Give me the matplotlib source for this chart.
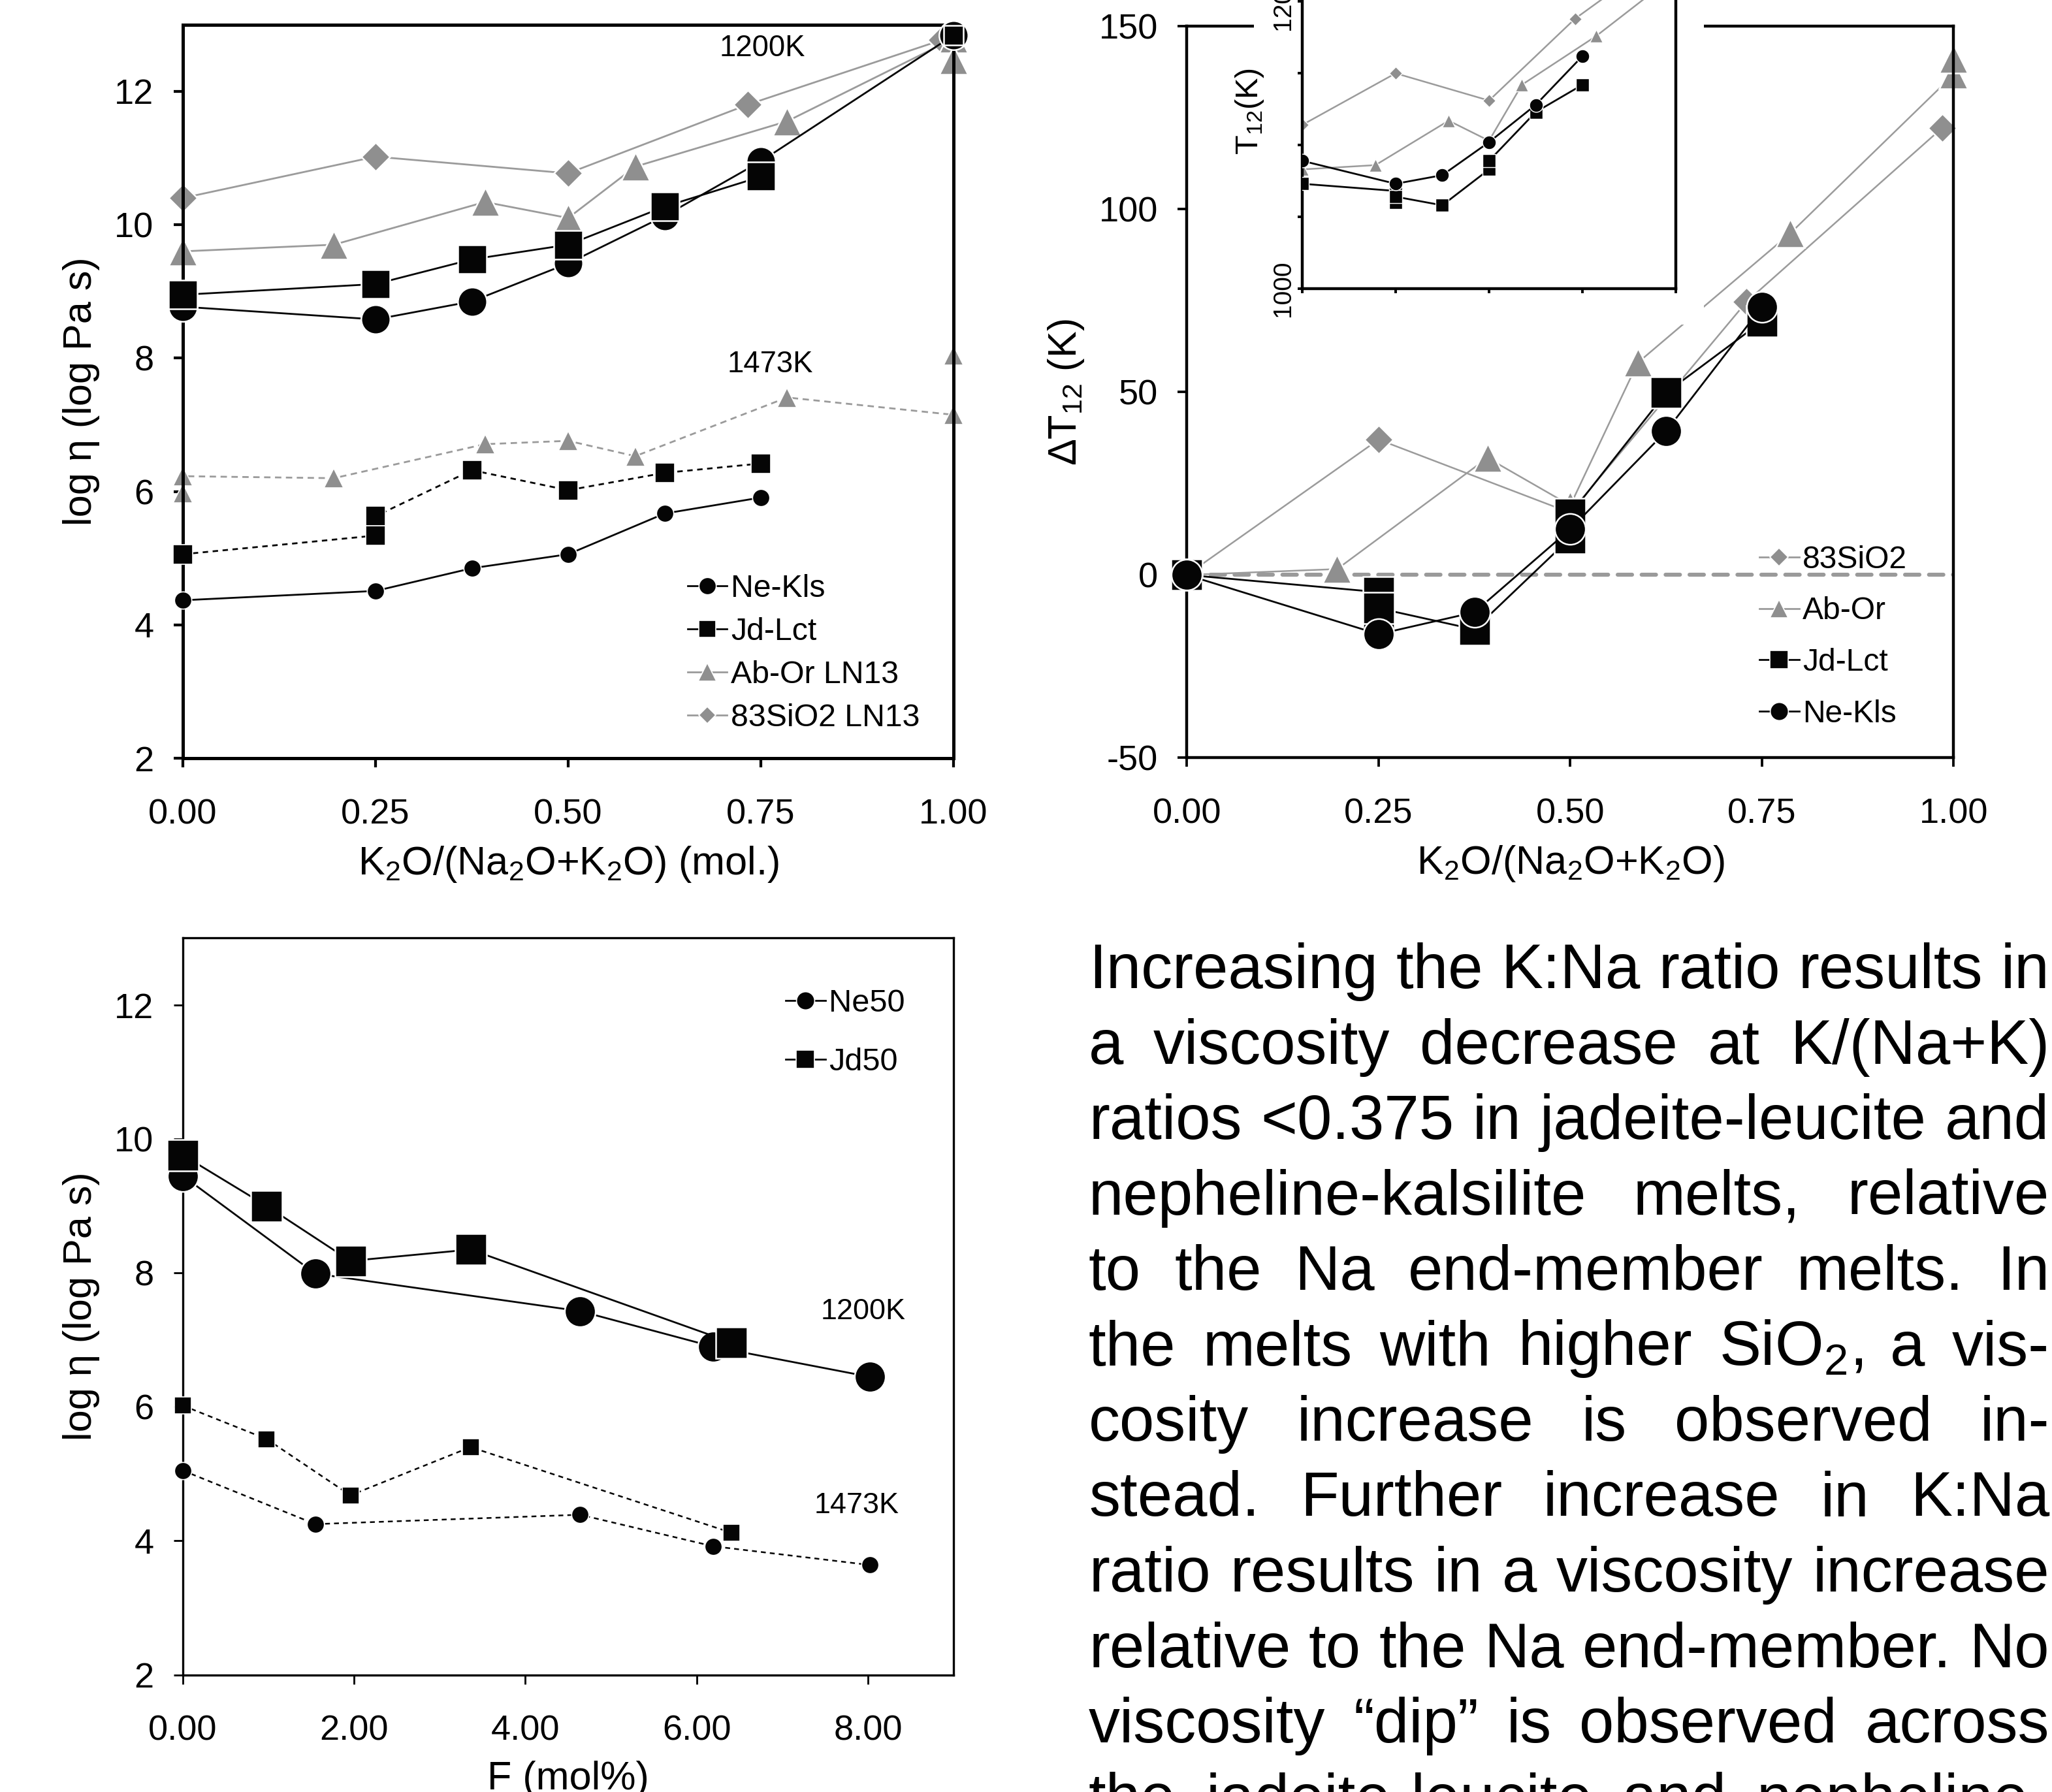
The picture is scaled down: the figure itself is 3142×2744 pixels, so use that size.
import matplotlib
matplotlib.use("Agg")
import matplotlib.pyplot as plt
from matplotlib.lines import Line2D
from matplotlib.patches import Rectangle
from matplotlib.ticker import FormatStrFormatter

plt.rcParams['font.family'] = ['Liberation Sans', 'DejaVu Sans']
plt.rcParams['mathtext.fontset'] = 'custom'
plt.rcParams['mathtext.rm'] = 'Liberation Sans'
plt.rcParams['mathtext.it'] = 'Liberation Sans:italic'
plt.rcParams['mathtext.bf'] = 'Liberation Sans:bold'
plt.rcParams['mathtext.default'] = 'regular'
plt.rcParams['axes.unicode_minus'] = False

# ---------------- Panel A: log viscosity vs K2O/(Na2O+K2O) ----------------
# 1200 K
nekls_x_1200 = [0.0, 0.25, 0.375, 0.5, 0.625, 0.75, 1.0]
nekls_y_1200 = [8.77, 8.58, 8.85, 9.42, 10.13, 10.95, 12.84]
jdlct_x_1200 = [0.0, 0.25, 0.375, 0.5, 0.625, 0.75]
jdlct_y_1200 = [8.95, 9.11, 9.48, 9.70, 10.27, 10.72]
jdlct_end_x = [1.0]
jdlct_end_y = [12.84]
abor_x_1200 = [0.0, 0.196, 0.392, 0.5, 0.587, 0.784, 1.0, 1.0]
abor_y_1200 = [9.60, 9.70, 10.34, 10.10, 10.87, 11.55, 12.79, 12.47]
sio2_x_1200 = [0.0, 0.25, 0.5, 0.733, 0.985]
sio2_y_1200 = [10.40, 11.02, 10.77, 11.80, 12.77]
# 1473 K
nekls_x_1473 = [0.0, 0.25, 0.375, 0.5, 0.625, 0.75]
nekls_y_1473 = [4.37, 4.51, 4.85, 5.06, 5.67, 5.91]
jdlct_x_1473 = [0.0, 0.25, 0.25, 0.375, 0.5, 0.625, 0.75]
jdlct_y_1473 = [5.06, 5.34, 5.63, 6.32, 6.02, 6.28, 6.42]
abor_x_1473 = [0.0, 0.0, 0.196, 0.392, 0.5, 0.587, 0.784, 1.0, 1.0]
abor_y_1473 = [5.98, 6.23, 6.20, 6.71, 6.76, 6.53, 7.41, 7.15, 8.04]

# ---------------- Panel B: Delta T12 ----------------
sio2_x_dt = [0.0, 0.25, 0.5, 0.73, 0.985]
sio2_dt = [0.0, 37.0, 17.0, 74.7, 122.2]
abor_x_dt = [0.0, 0.196, 0.392, 0.5, 0.588, 0.787, 1.0, 1.0]
abor_dt = [0.0, 1.6, 32.0, 19.0, 58.0, 93.4, 136.8, 141.0]
jdlct_x_dt = [0.0, 0.25, 0.25, 0.25, 0.375, 0.5, 0.5, 0.625, 0.75]
jdlct_dt = [0.0, -4.7, -13.0, -9.1, -14.9, 10.1, 16.6, 49.8, 69.3]
nekls_x_dt = [0.0, 0.25, 0.375, 0.5, 0.625, 0.75]
nekls_dt = [0.0, -16.2, -10.2, 12.5, 39.3, 73.3]

# inset: T12 (K)
ins_sio2_x = [0.0, 0.25, 0.5, 0.73, 0.985]
ins_sio2_t = [1114, 1150, 1131, 1188, 1236]
ins_abor_x = [0.0, 0.196, 0.392, 0.5, 0.588, 0.787, 1.0, 1.0]
ins_abor_t = [1083, 1086, 1117, 1103, 1142, 1176, 1219, 1223]
ins_jdlct_x = [0.0, 0.25, 0.25, 0.25, 0.375, 0.5, 0.5, 0.625, 0.75]
ins_jdlct_t = [1073, 1068, 1060, 1064, 1058, 1083, 1089, 1123, 1142]
ins_nekls_x = [0.0, 0.25, 0.375, 0.5, 0.625, 0.75]
ins_nekls_t = [1089, 1073, 1079, 1102, 1128, 1162]

# ---------------- Panel C: log viscosity vs F ----------------
ne50_x = [0.0, 1.547, 4.64, 6.19, 8.02]
ne50_y_1200 = [9.45, 7.99, 7.43, 6.90, 6.45]
ne50_y_1473 = [5.05, 4.25, 4.39, 3.92, 3.64]
jd50_x = [0.0, 0.979, 1.957, 3.36, 6.41]
jd50_y_1200 = [9.76, 9.00, 8.18, 8.35, 6.96]
jd50_y_1473 = [6.02, 5.52, 4.68, 5.40, 4.12]

x_ticks_ratio = [0.0, 0.25, 0.5, 0.75, 1.0]
y_ticks_eta = [2, 4, 6, 8, 10, 12]
y_ticks_dt = [-50, 0, 50, 100, 150]
x_ticks_f = [0.0, 2.0, 4.0, 6.0, 8.0]

paragraph_lines = [
    "Increasing the K:Na ratio results in",
    "a viscosity decrease at K/(Na+K)",
    "ratios <0.375 in jadeite-leucite and",
    "nepheline-kalsilite melts, relative",
    "to the Na end-member melts. In",
    "the melts with higher SiO$_2$, a vis-",
    "cosity increase is observed in-",
    "stead. Further increase in K:Na",
    "ratio results in a viscosity increase",
    "relative to the Na end-member. No",
    "viscosity \u201cdip\u201d is observed across",
    "the jadeite-leucite and nepheline-",
]

GRAY_M = '#8f8f8f'
GRAY_L = '#9b9b9b'
BLACK = '#050505'

W_PX, H_PX, DPI = 3142, 2744, 200
fig = plt.figure(figsize=(W_PX / DPI, H_PX / DPI), dpi=DPI)

axA = fig.add_axes([0.0891, 0.5768, 0.3756, 0.4095])
axB = fig.add_axes([0.5784, 0.5771, 0.3737, 0.4083])
axC = fig.add_axes([0.0891, 0.0654, 0.3756, 0.4111])
axIn = fig.add_axes([0.6346, 0.8390, 0.1821, 0.2402], zorder=5)
fig.add_artist(Rectangle((0.611, 0.8188), 0.2194, 0.1812, transform=fig.transFigure,
                         facecolor='white', edgecolor='none', zorder=2))


def series(ax, x, y, marker, ms, mfc, lc, lw=1.0, ls='-', dashes=None, mew=0.9, z=3):
    ln, = ax.plot(x, y, marker=marker, ms=ms, mfc=mfc, mec='white', mew=mew,
                  color=lc, lw=lw, ls=ls, clip_on=False, zorder=z)
    if dashes is not None:
        ln.set_dashes(dashes)
    return ln


def style(ax, lw, labelsize=19.5):
    for s in ax.spines.values():
        s.set_linewidth(lw)
    ax.tick_params(direction='out', length=5, width=lw * 0.85, labelsize=labelsize, colors='black')
    ax.tick_params(axis='x', pad=17)
    ax.tick_params(axis='y', pad=11)


def set_labels(ax, xl, yl, xc, yc, fs=22):
    ax.set_xlabel(xl, fontsize=fs)
    ax.set_ylabel(yl, fontsize=fs)
    ax.xaxis.set_label_coords(0.5, xc)
    ax.yaxis.set_label_coords(yc, 0.5)
    ax.xaxis.label.set_verticalalignment('center')
    ax.yaxis.label.set_verticalalignment('center')


# ---------------- Panel A ----------------
series(axA, abor_x_1473, abor_y_1473, '^', 11, GRAY_M, GRAY_L, lw=1.0, dashes=(3.5, 2.5), mew=0.6, z=2)
series(axA, jdlct_x_1473, jdlct_y_1473, 's', 10.5, BLACK, BLACK, lw=1.0, dashes=(3.0, 2.5), mew=0.6)
series(axA, nekls_x_1473, nekls_y_1473, 'o', 9.5, BLACK, BLACK, lw=1.0, mew=0.6)
series(axA, sio2_x_1200, sio2_y_1200, 'D', 11.2, GRAY_M, GRAY_L, lw=1.0, z=2)
series(axA, abor_x_1200, abor_y_1200, '^', 16, GRAY_M, GRAY_L, lw=1.0, z=2)
series(axA, nekls_x_1200, nekls_y_1200, 'o', 16, BLACK, BLACK, lw=1.0)
series(axA, jdlct_x_1200, jdlct_y_1200, 's', 15.5, BLACK, BLACK, lw=1.0)
series(axA, jdlct_end_x, jdlct_end_y, 's', 11, BLACK, BLACK, lw=0)

axA.set_xlim(0, 1)
axA.set_ylim(2, 13)
axA.set_xticks(x_ticks_ratio)
axA.set_yticks(y_ticks_eta)
axA.xaxis.set_major_formatter(FormatStrFormatter('%.2f'))
style(axA, 1.8)
set_labels(axA, 'K$_2$O/(Na$_2$O+K$_2$O) (mol.)', 'log \u03b7 (log Pa s)', -0.144, -0.132)
axA.text(0.752, 0.968, '1200K', transform=axA.transAxes, fontsize=16.4, ha='center', va='center')
axA.text(0.762, 0.537, '1473K', transform=axA.transAxes, fontsize=16.4, ha='center', va='center')

hA = [Line2D([], [], color=BLACK, lw=1.0, marker='o', ms=9.5, mfc=BLACK, mec='white', mew=0.6),
      Line2D([], [], color=BLACK, lw=1.0, marker='s', ms=9.5, mfc=BLACK, mec='white', mew=0.6),
      Line2D([], [], color=GRAY_L, lw=1.0, marker='^', ms=10, mfc=GRAY_M, mec='white', mew=0.6),
      Line2D([], [], color=GRAY_L, lw=1.0, marker='D', ms=6.8, mfc=GRAY_M, mec='white', mew=0.6)]
axA.legend(hA, ['Ne-Kls', 'Jd-Lct', 'Ab-Or LN13', '83SiO2 LN13'], loc='upper left',
           bbox_to_anchor=(0.655, 0.2516), frameon=False, fontsize=17.4, handlelength=1.25,
           handletextpad=0.12, labelspacing=0.44, borderpad=0, borderaxespad=0)

# ---------------- Panel B ----------------
axB.axhline(0, color='#9a9a9a', lw=2.2, dashes=(3.6, 2.4), zorder=1, dash_capstyle='round')
series(axB, sio2_x_dt, sio2_dt, 'D', 11.2, GRAY_M, GRAY_L, lw=0.9, z=2)
series(axB, abor_x_dt, abor_dt, '^', 16, GRAY_M, GRAY_L, lw=0.9, z=2)
series(axB, jdlct_x_dt, jdlct_dt, 's', 17, BLACK, BLACK, lw=1.0)
series(axB, nekls_x_dt, nekls_dt, 'o', 17, BLACK, BLACK, lw=1.0)
axB.set_xlim(0, 1)
axB.set_ylim(-50, 150)
axB.set_xticks(x_ticks_ratio)
axB.set_yticks(y_ticks_dt)
axB.xaxis.set_major_formatter(FormatStrFormatter('%.2f'))
style(axB, 1.6)
set_labels(axB, 'K$_2$O/(Na$_2$O+K$_2$O)', '\u0394T$_{12}$ (K)', -0.145, -0.157)

hB = [Line2D([], [], color=GRAY_L, lw=1.0, marker='D', ms=7, mfc=GRAY_M, mec='white', mew=0.6),
      Line2D([], [], color=GRAY_L, lw=1.0, marker='^', ms=10, mfc=GRAY_M, mec='white', mew=0.6),
      Line2D([], [], color=BLACK, lw=1.0, marker='s', ms=10, mfc=BLACK, mec='white', mew=0.6),
      Line2D([], [], color=BLACK, lw=1.0, marker='o', ms=10, mfc=BLACK, mec='white', mew=0.6)]
axB.legend(hB, ['83SiO2', 'Ab-Or', 'Jd-Lct', 'Ne-Kls'], loc='upper left',
           bbox_to_anchor=(0.747, 0.2906), frameon=False, fontsize=17.3, handlelength=1.25,
           handletextpad=0.12, labelspacing=0.70, borderpad=0, borderaxespad=0)

# inset
series(axIn, ins_sio2_x, ins_sio2_t, 'D', 5.2, GRAY_M, GRAY_L, lw=0.9, mew=0.5, z=2)
series(axIn, ins_abor_x, ins_abor_t, '^', 7.5, GRAY_M, GRAY_L, lw=0.9, mew=0.5, z=2)
series(axIn, ins_jdlct_x, ins_jdlct_t, 's', 7.5, BLACK, BLACK, lw=1.0, mew=0.5)
series(axIn, ins_nekls_x, ins_nekls_t, 'o', 7.5, BLACK, BLACK, lw=1.0, mew=0.5)
for ln in axIn.lines:
    ln.set_clip_on(True)
axIn.set_xlim(0, 1)
axIn.set_ylim(1000, 1300)
axIn.set_xticks(x_ticks_ratio)
axIn.set_xticklabels([])
axIn.set_yticks([1000, 1050, 1100, 1150, 1200, 1250, 1300])
axIn.set_yticklabels(['1000', '', '', '', '1200', '', ''])
for s in axIn.spines.values():
    s.set_linewidth(1.6)
axIn.tick_params(direction='out', length=2.6, width=1.4, labelsize=14, pad=1.5)
axIn.tick_params(axis='y', labelrotation=90)
for lab in axIn.get_yticklabels():
    lab.set_verticalalignment('center')
axIn.set_ylabel('T$_{12}$(K)', fontsize=17.5)
axIn.yaxis.set_label_coords(-0.14, 0.412)
axIn.yaxis.label.set_verticalalignment('center')

# ---------------- Panel C ----------------
series(axC, ne50_x, ne50_y_1473, 'o', 9.5, BLACK, BLACK, lw=0.9, dashes=(3.0, 2.5), mew=0.6)
series(axC, jd50_x, jd50_y_1473, 's', 9.5, BLACK, BLACK, lw=0.9, dashes=(3.0, 2.5), mew=0.6)
series(axC, ne50_x, ne50_y_1200, 'o', 17, BLACK, BLACK, lw=1.0)
series(axC, jd50_x, jd50_y_1200, 's', 17, BLACK, BLACK, lw=1.0)
axC.set_xlim(0, 9)
axC.set_ylim(2, 13)
axC.set_xticks(x_ticks_f)
axC.set_yticks(y_ticks_eta)
axC.xaxis.set_major_formatter(FormatStrFormatter('%.2f'))
style(axC, 1.2)
set_labels(axC, 'F (mol%)', 'log \u03b7 (log Pa s)', -0.142, -0.132)
axC.text(0.883, 0.493, '1200K', transform=axC.transAxes, fontsize=16.2, ha='center', va='center')
axC.text(0.874, 0.2295, '1473K', transform=axC.transAxes, fontsize=16.2, ha='center', va='center')
hC = [Line2D([], [], color=BLACK, lw=1.0, marker='o', ms=10, mfc=BLACK, mec='white', mew=0.6),
      Line2D([], [], color=BLACK, lw=1.0, marker='s', ms=10, mfc=BLACK, mec='white', mew=0.6)]
axC.legend(hC, ['Ne50', 'Jd50'], loc='upper left', bbox_to_anchor=(0.782, 0.931), frameon=False,
           fontsize=17.5, handlelength=1.25, handletextpad=0.12, labelspacing=0.92,
           borderpad=0, borderaxespad=0)

# ---------------- Justified paragraph ----------------
renderer = fig.canvas.get_renderer()
x_left, x_right = 1667.0, 3138.0
base0, step = 1513.0, 115.5
fs_par = 34.5
for i, line in enumerate(paragraph_lines):
    words = line.split(' ')
    yb = 1.0 - (base0 + i * step) / H_PX
    texts = [fig.text(0, yb, w, fontsize=fs_par, ha='left', va='baseline', color='black')
             for w in words]
    widths = [t.get_window_extent(renderer).width for t in texts]
    gap = (x_right - x_left - sum(widths)) / max(len(words) - 1, 1)
    xpos = x_left
    for t, wd in zip(texts, widths):
        t.set_x(xpos / W_PX)
        xpos += wd + gap

fig.savefig('out.png', dpi=DPI)
